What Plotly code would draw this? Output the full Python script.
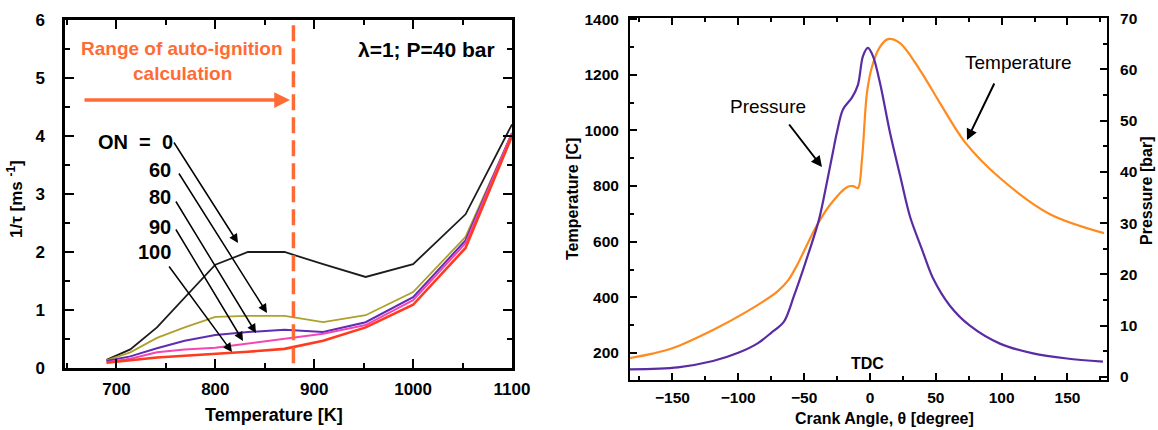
import plotly.graph_objects as go

# ---------------- data: left panel (ignition rate vs temperature) ----------------
temp_K = [690, 714, 741, 769, 800, 833, 870, 909, 952, 1000, 1053, 1100]
rate_on0 = [0.14, 0.32, 0.70, 1.22, 1.78, 2.00, 2.00, 1.79, 1.57, 1.79, 2.65, 4.20]
rate_on60 = [0.13, 0.27, 0.52, 0.70, 0.88, 0.90, 0.90, 0.79, 0.91, 1.31, 2.26, 4.05]
rate_on80 = [0.12, 0.20, 0.34, 0.47, 0.57, 0.62, 0.66, 0.62, 0.79, 1.22, 2.20, 4.05]
rate_on90 = [0.10, 0.16, 0.27, 0.32, 0.35, 0.42, 0.50, 0.59, 0.74, 1.17, 2.15, 4.05]
rate_on100 = [0.09, 0.13, 0.18, 0.21, 0.24, 0.28, 0.33, 0.47, 0.70, 1.09, 2.07, 4.00]
on_labels = ["ON\u00a0\u00a0=\u00a0\u00a00", "60", "80", "90", "100"]
autoign_limit_K = 879

# ---------------- data: right panel (crank angle traces) ----------------
temp_angle = [-182.2, -165.0, -149.6, -119.2, -94.2, -70.6, -62.0, -55.4, -41.0, -30.4,
              -17.5, -12.9, -9.1, -6.1, -2.3, 1.5, 7.6, 13.7, 22.8, 38.0, 53.2, 72.1,
              98.7, 136.7, 177.7]
temp_C = [182, 198, 218, 283, 347, 420, 462, 515, 653, 732,
          796, 800, 793, 893, 1134, 1228, 1300, 1328, 1314, 1217, 1098, 958,
          829, 699, 631]
pres_angle = [-182.2, -145.8, -119.2, -100.0, -85.0, -75.0, -65.3, -57.7, -48.6, -38.7,
              -32.6, -28.1, -25.1, -20.5, -13.7, -9.1, -5.3, -1.5, 2.3, 7.6, 15.2, 22.8,
              30.4, 39.5, 47.8, 60.7, 75.9, 98.7, 123.8, 149.6, 176.9]
pres_bar = [1.49, 1.88, 3.1, 4.7, 6.6, 8.6, 10.8, 15.8, 22.6, 30.7,
            38.1, 43.9, 47.7, 52.2, 54.5, 57.0, 62.6, 64.2, 62.6, 57.4, 47.7, 39.4,
            31.3, 24.9, 19.3, 13.9, 10.0, 6.5, 4.6, 3.6, 3.0]

# ---------------- styling ----------------
W, H = 1158, 430
FONT = "Liberation Sans, Arial, Helvetica, sans-serif"


def px(x):
    return x / W


def py(y):
    return 1 - y / H


fig = go.Figure()

left_series = [
    (rate_on0, "#1c1c1c", 1.8),
    (rate_on60, "#ADA12B", 1.8),
    (rate_on80, "#5E2DB3", 2.0),
    (rate_on90, "#F545B4", 2.0),
    (rate_on100, "#FF3B1F", 2.6),
]
for vals, col, w in left_series:
    fig.add_trace(go.Scatter(x=temp_K, y=vals, mode="lines", xaxis="x", yaxis="y",
                             line=dict(color=col, width=w), showlegend=False,
                             hoverinfo="skip"))

fig.add_trace(go.Scatter(x=temp_angle, y=temp_C, mode="lines", xaxis="x2", yaxis="y2",
                         line=dict(color="#FF8A1E", width=2.2, shape="spline", smoothing=0.9),
                         showlegend=False, hoverinfo="skip"))
fig.add_trace(go.Scatter(x=pres_angle, y=pres_bar, mode="lines", xaxis="x2", yaxis="y3",
                         line=dict(color="#5A2CA3", width=2.2, shape="spline", smoothing=0.9),
                         showlegend=False, hoverinfo="skip"))

tick_l = dict(family=FONT, size=17, color="black", weight="bold")
tick_r = dict(family=FONT, size=15.5, color="black", weight="bold")

common = dict(showline=True, linecolor="black", ticks="inside", tickcolor="black",
              showgrid=False, zeroline=False, automargin=False)

fig.update_layout(
    template="none",
    width=W, height=H,
    margin=dict(l=0, r=0, t=0, b=0, autoexpand=False),
    paper_bgcolor="white", plot_bgcolor="white",
    showlegend=False,
    xaxis=dict(domain=[px(65), px(512)], range=[648, 1100], anchor="y",
               dtick=100, tick0=0, linewidth=2.5, mirror="ticks", ticklen=9, tickwidth=2,
               minor=dict(dtick=50, ticks="inside", ticklen=5, tickwidth=2, tickcolor="black"),
               tickfont=tick_l, ticklabelstandoff=4, **common),
    yaxis=dict(domain=[py(368), py(20)], range=[0, 6], anchor="x",
               dtick=1, linewidth=2.5, mirror="ticks", ticklen=9, tickwidth=2,
               minor=dict(dtick=0.5, ticks="inside", ticklen=5, tickwidth=2, tickcolor="black"),
               tickfont=tick_l, ticklabelstandoff=14, **common),
    xaxis2=dict(domain=[px(630), px(1107)], range=[-182.2, 180], anchor="y2",
                dtick=50, tick0=0, linewidth=2, mirror="ticks", ticklen=7, tickwidth=1.6,
                minor=dict(dtick=25, ticks="inside", ticklen=4, tickwidth=1.6, tickcolor="black"),
                tickfont=tick_r, ticklabelstandoff=2, **common),
    yaxis2=dict(domain=[py(380), py(18)], range=[103, 1404], anchor="x2",
                dtick=200, tick0=0, linewidth=2, ticklen=7, tickwidth=1.6,
                minor=dict(dtick=100, ticks="inside", ticklen=4, tickwidth=1.6, tickcolor="black"),
                tickfont=tick_r, ticklabelstandoff=6, **common),
    yaxis3=dict(domain=[py(380), py(18)], range=[-0.6, 70.05], anchor="x2",
                overlaying="y2", side="right",
                dtick=10, tick0=0, linewidth=2, ticklen=7, tickwidth=1.6,
                minor=dict(dtick=5, ticks="inside", ticklen=4, tickwidth=1.6, tickcolor="black"),
                tickfont=tick_r, ticklabelstandoff=8, **common),
)

# dashed auto-ignition limit
fig.add_shape(type="line", xref="x", yref="y", x0=autoign_limit_K, x1=autoign_limit_K,
              y0=0.08, y1=6, line=dict(color="#FF6B35", width=3.5, dash="16px,7px"))

ann = []


def text(x, y, s, size, color="black", bold=True, xanchor="center", angle=0):
    ann.append(dict(x=px(x), y=py(y), xref="paper", yref="paper", text=s, showarrow=False,
                    xanchor=xanchor, yanchor="middle", textangle=angle,
                    font=dict(family=FONT, size=size, color=color,
                              weight="bold" if bold else "normal")))


def arrow(x0, y0, x1, y1, color="black", width=1.5, head=2, size=1.2):
    ann.append(dict(x=px(x1), y=py(y1), xref="paper", yref="paper", text="",
                    showarrow=True, ax=x0 - x1, ay=y0 - y1, axref="pixel", ayref="pixel",
                    arrowhead=head, arrowsize=size, arrowwidth=width, arrowcolor=color,
                    standoff=0, startstandoff=0))


ORANGE = "#FF6B35"
# axis titles
text(15, 199, "1/τ [ms <sup>-1</sup>]", 17, angle=-90)
text(274, 415, "Temperature [K]", 18)
text(572, 199, "Temperature [C]", 16, angle=-90)
text(1147, 191, "Pressure [bar]", 16, angle=-90)
text(884, 418, "Crank Angle, θ [degree]", 16)

# left panel annotations
text(182, 48, "Range of auto-ignition", 19, color=ORANGE)
text(182, 73, "calculation", 19, color=ORANGE)
arrow(83, 100, 290, 100, color=ORANGE, width=3.5, head=2, size=0.9)
text(497, 49, "λ=1; P=40 bar", 21, xanchor="right")

label_pos = [(175, 142), (173, 170), (173, 197), (173, 227), (173, 252)]
for (lx, ly), s in zip(label_pos, on_labels):
    text(lx, ly, s, 20, xanchor="right")

arrow(173, 141, 238, 243)
arrow(178, 172, 267, 313)
arrow(175, 200, 256, 333)
arrow(175, 228, 243, 341)
arrow(168, 265, 232, 352)

# right panel annotations
text(768, 107, "Pressure", 19, bold=False)
arrow(788, 123, 822, 167, width=2, size=1.1)
text(1018, 63, "Temperature", 19, bold=False)
arrow(995, 82, 967, 140, width=2, size=1.1)
text(867, 363, "TDC", 16)

fig.update_layout(annotations=ann)

fig.write_html("out.html")
